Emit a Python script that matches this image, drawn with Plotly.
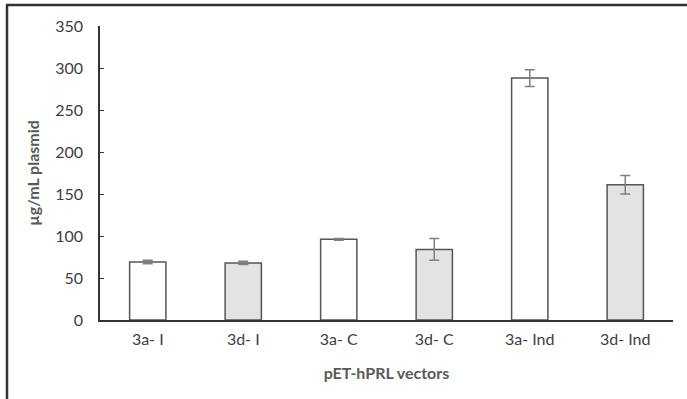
import plotly.graph_objects as go

categories = ["3a- I", "3d- I", "3a- C", "3d- C", "3a- Ind", "3d- Ind"]
values = [69, 68, 96, 84, 288, 161]
errors = [2, 2, 1, 13, 10, 11]
fills = ["#ffffff", "#e3e3e3", "#ffffff", "#e3e3e3", "#ffffff", "#e3e3e3"]
y_ticks = [0, 50, 100, 150, 200, 250, 300, 350]

fig = go.Figure()
fig.add_trace(go.Bar(
    x=categories, y=values,
    marker=dict(color=fills, line=dict(color="#555555", width=1.5)),
    error_y=dict(type="data", array=errors, visible=True,
                 color="#808080", thickness=1.5, width=5),
    width=0.38,
))

W, H = 687, 399
l, r, t, b = 100, 14, 26, 79
pw, ph = W - l - r, H - t - b

def px_x(px):
    return (px - l) / pw

def px_y(py):
    return (H - b - py) / ph

fig.add_shape(type="line", xref="paper", yref="paper",
              x0=px_x(7), x1=px_x(7), y0=px_y(400), y1=px_y(5),
              line=dict(color="#333333", width=2.5))
fig.add_shape(type="line", xref="paper", yref="paper",
              x0=px_x(6), x1=px_x(687), y0=px_y(5), y1=px_y(5),
              line=dict(color="#333333", width=2.5))

fig.update_layout(
    width=W, height=H,
    margin=dict(l=l, r=r, t=t, b=b),
    paper_bgcolor="white", plot_bgcolor="white",
    font=dict(family="Lato, Open Sans, sans-serif", size=16, color="#404040"),
    showlegend=False,
    xaxis=dict(
        showline=True, linecolor="#333333", linewidth=1.5,
        ticks="", showgrid=False,
        ticklabelstandoff=4,
        title=dict(text="<b>pET-hPRL vectors</b>", standoff=21,
                   font=dict(size=16, color="#595959")),
    ),
    yaxis=dict(
        range=[0, 350], tickvals=y_ticks,
        showline=True, linecolor="#333333", linewidth=1.5,
        ticks="inside", ticklen=4, tickcolor="#333333",
        showgrid=False, zeroline=False,
        ticklabelstandoff=12,
        title=dict(text="<b>µg/mL plasmid</b>", standoff=12,
                   font=dict(size=16, color="#595959")),
    ),
)

fig.write_html("out.html", config={"displayModeBar": False},
               post_script="document.body.style.margin='0';")
